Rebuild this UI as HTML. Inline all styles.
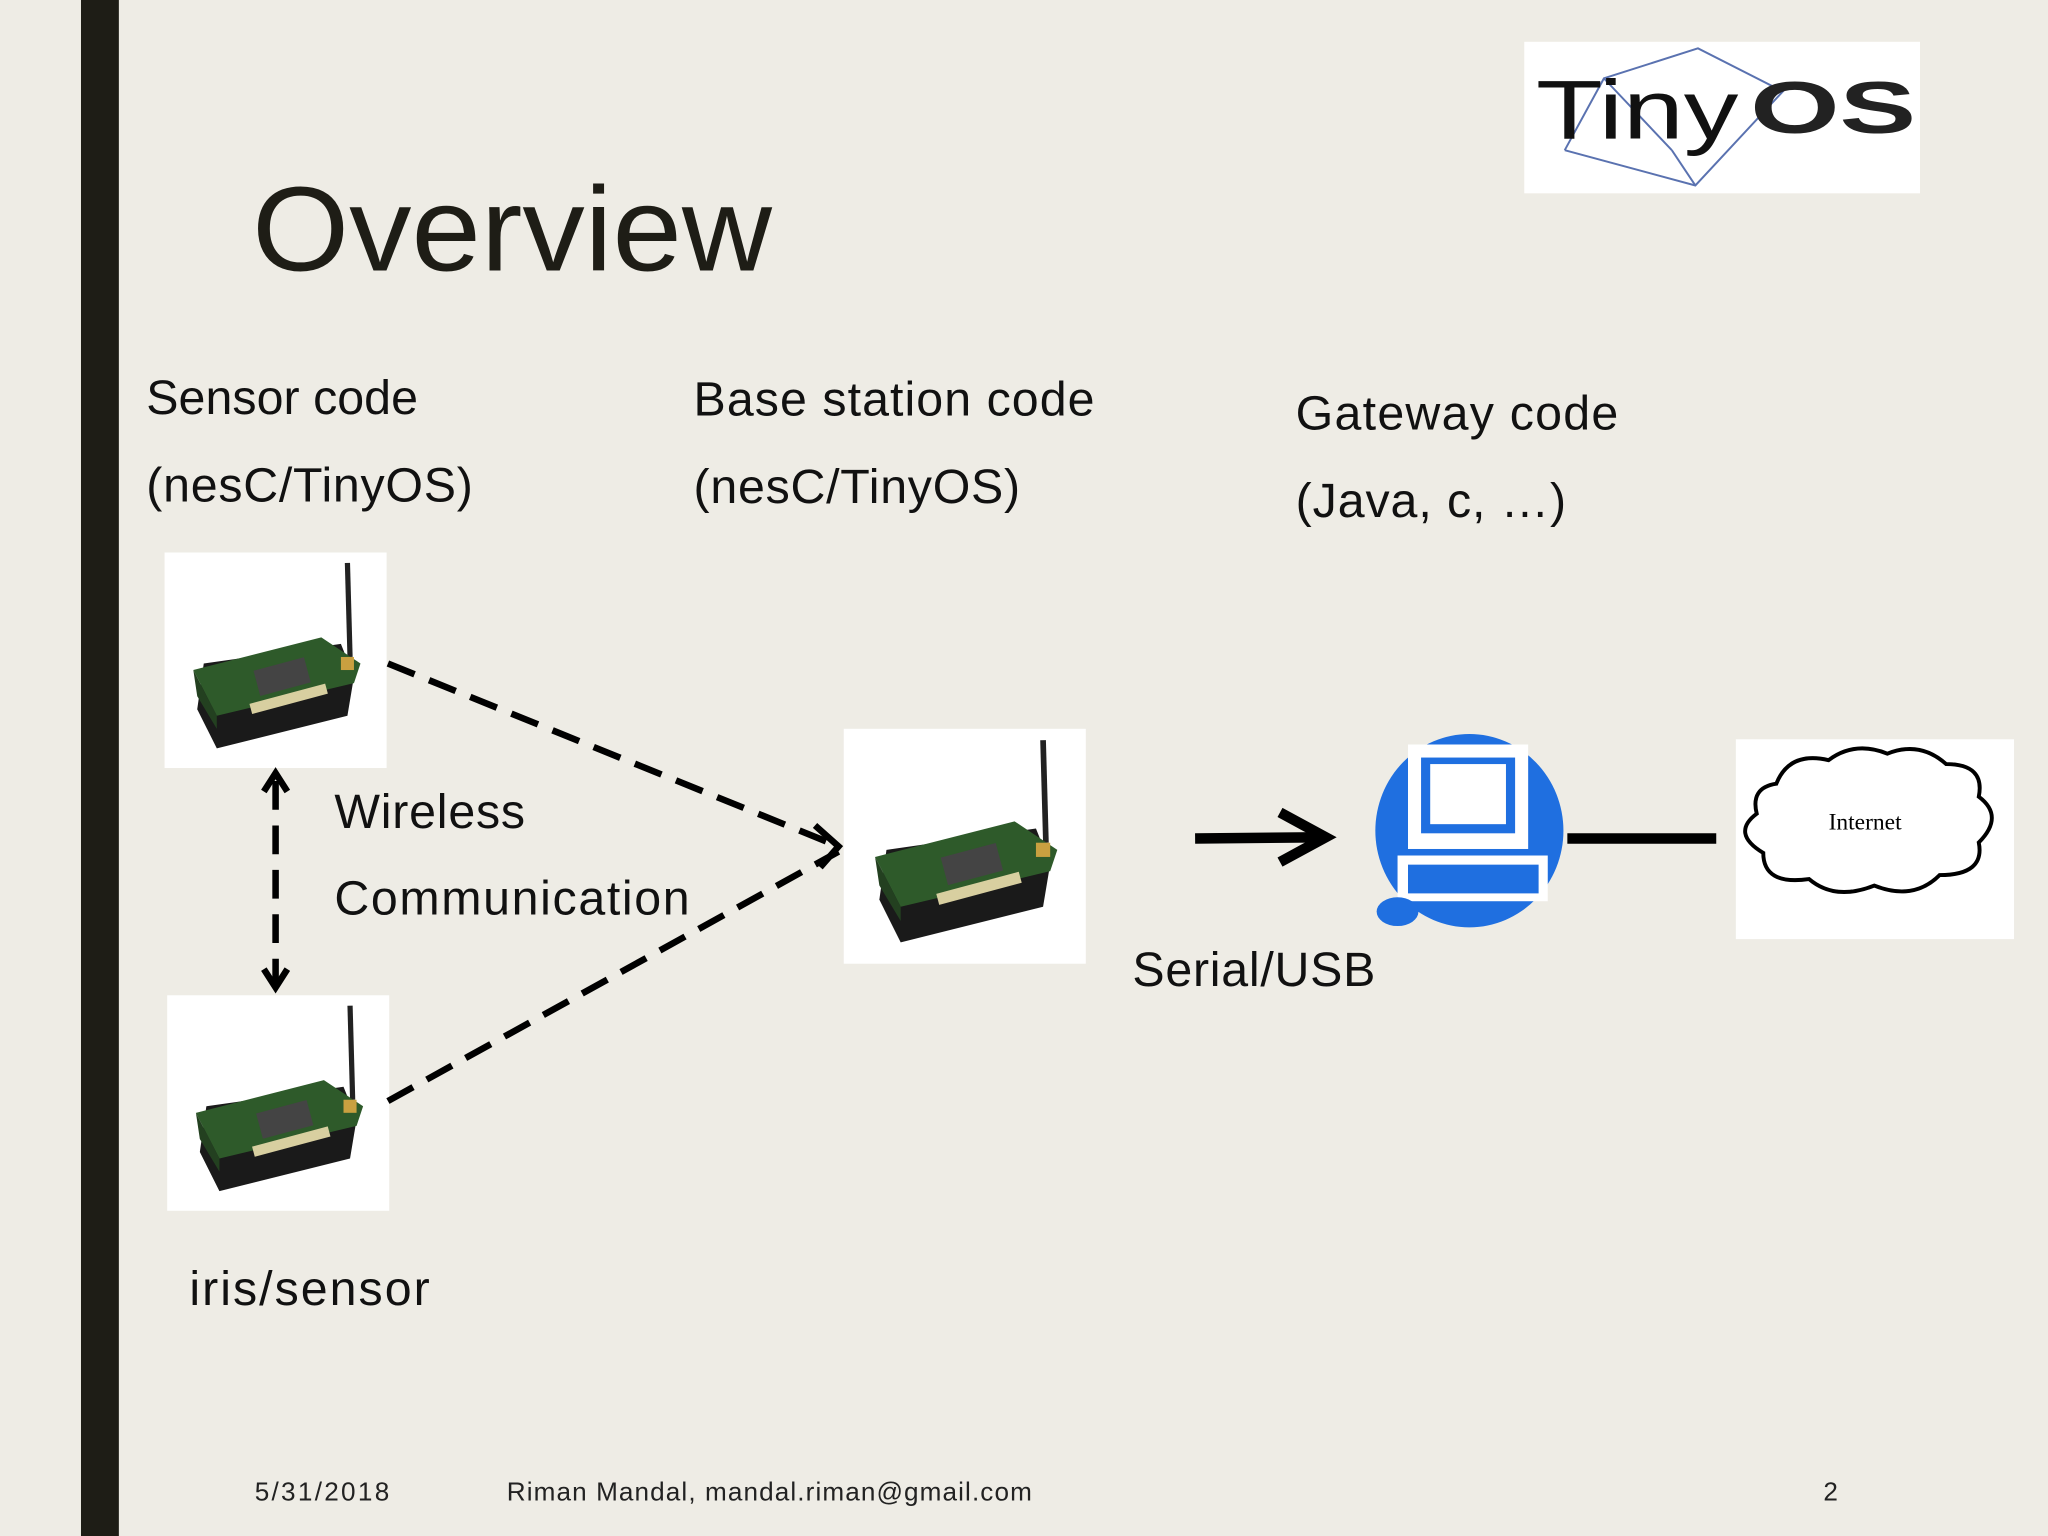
<!DOCTYPE html>
<html><head><meta charset="utf-8"><style>
html,body{margin:0;padding:0;background:#eeece5;}
svg{display:block}
text{font-family:"Liberation Sans","DejaVu Sans",sans-serif;}
</style></head><body>
<svg width="2048" height="1536" viewBox="0 0 1568 1176" xmlns="http://www.w3.org/2000/svg">
<defs>
<g id="mote">
  <rect x="0" y="0" width="170" height="165" fill="#fff"/>
  <line x1="140" y1="8" x2="142" y2="80" stroke="#222" stroke-width="4"/>
  <polygon points="25,120 30,85 135,70 145,95 140,125 40,150" fill="#1a1a1a"/>
  <polygon points="22,90 120,65 150,85 145,100 40,125" fill="#2e5a2a"/>
  <polygon points="22,90 40,125 40,135 25,110" fill="#234020"/>
  <rect x="70" y="85" width="40" height="20" fill="#444" transform="rotate(-15 90 95)"/>
  <rect x="65" y="108" width="60" height="8" fill="#d8cfa0" transform="rotate(-15 95 112)"/>
  <rect x="135" y="80" width="10" height="10" fill="#c9a040"/>
</g>
</defs>
<rect width="1568" height="1176" fill="#eeece5"/>
<rect x="62" y="0" width="29" height="1176" fill="#1e1d16"/>
<!-- logo -->
<rect x="1167" y="32" width="303" height="116" fill="#fff"/>
<g stroke="#5a72b0" stroke-width="1.5" fill="none">
<polyline points="1198,115 1228,60 1300,37 1365,70 1298,142 1198,115"/>
<line x1="1280" y1="115" x2="1228" y2="60"/>
<line x1="1280" y1="115" x2="1298" y2="142"/>
</g>
<text x="1176" y="106" font-size="64" fill="#111" textLength="155" lengthAdjust="spacingAndGlyphs">Tiny</text>
<text x="1340" y="102" font-size="56" font-weight="bold" fill="#222" textLength="127" lengthAdjust="spacingAndGlyphs">O<tspan fill="#222">S</tspan></text>
<text x="193" y="207" font-size="92" fill="#1e1d16" textLength="398" lengthAdjust="spacingAndGlyphs">Overview</text>
<g font-size="37" fill="#111">
<text x="112" y="317" textLength="208">Sensor code</text>
<text x="112" y="384" textLength="250">(nesC/TinyOS)</text>
<text x="531" y="318" textLength="307">Base station code</text>
<text x="531" y="385" textLength="250">(nesC/TinyOS)</text>
<text x="992" y="329" textLength="247">Gateway code</text>
<text x="992" y="396" textLength="207">(Java, c, …)</text>
<text x="256" y="634" textLength="146">Wireless</text>
<text x="256" y="700" textLength="272">Communication</text>
<text x="867" y="755" textLength="186">Serial/USB</text>
<text x="145" y="999" textLength="184">iris/sensor</text>
</g>
<use href="#mote" x="126" y="423"/>
<use href="#mote" x="128" y="762"/>
<use href="#mote" x="646" y="558" transform="translate(646 558) scale(1.09) translate(-646 -558)"/>
<g stroke="#000" stroke-width="5" fill="none" stroke-dasharray="22,12">
<line x1="297" y1="508" x2="642" y2="648"/>
<line x1="297" y1="843" x2="642" y2="652"/>
<line x1="211" y1="598" x2="211" y2="752"/>
</g>
<g stroke="#000" stroke-width="5" fill="none">
<polyline points="624,632 642,648 628,664"/>
<polyline points="202,606 211,592 220,606"/>
<polyline points="202,742 211,756 220,742"/>
<line x1="915" y1="642" x2="1015" y2="641" stroke-width="8"/>
<polyline points="980,622 1015,641 980,660" stroke-width="8"/>
<line x1="1200" y1="642" x2="1314" y2="642" stroke-width="8"/>
</g>
<!-- computer -->
<ellipse cx="1125" cy="636" rx="72" ry="74" fill="#1f6fe0"/>
<rect x="1078" y="570" width="92" height="80" fill="#fff"/>
<rect x="1088" y="580" width="72" height="58" fill="#1f6fe0"/>
<rect x="1095" y="585" width="58" height="46" fill="#fff"/>
<rect x="1070" y="655" width="115" height="35" fill="#fff"/>
<rect x="1078" y="662" width="100" height="22" fill="#1f6fe0"/>
<ellipse cx="1070" cy="698" rx="16" ry="11" fill="#1f6fe0"/>
<!-- internet -->
<rect x="1329" y="566" width="213" height="153" fill="#fff"/>
<path d="M1360,600 q10,-25 40,-18 q20,-15 45,-5 q25,-10 45,8 q30,0 25,25 q20,15 0,35 q5,25 -30,25 q-20,20 -50,8 q-30,12 -50,-5 q-35,5 -35,-20 q-25,-15 -5,-30 q-5,-20 15,-23z" fill="#fff" stroke="#000" stroke-width="3"/>
<text x="1400" y="635" font-size="18" fill="#000" style="font-family:'Liberation Serif',serif">Internet</text>
<g font-size="20" fill="#222">
<text x="195" y="1149" textLength="103">5/31/2018</text>
<text x="388" y="1149" textLength="402">Riman Mandal, mandal.riman@gmail.com</text>
<text x="1396" y="1149">2</text>
</g>
</svg>
</body></html>
